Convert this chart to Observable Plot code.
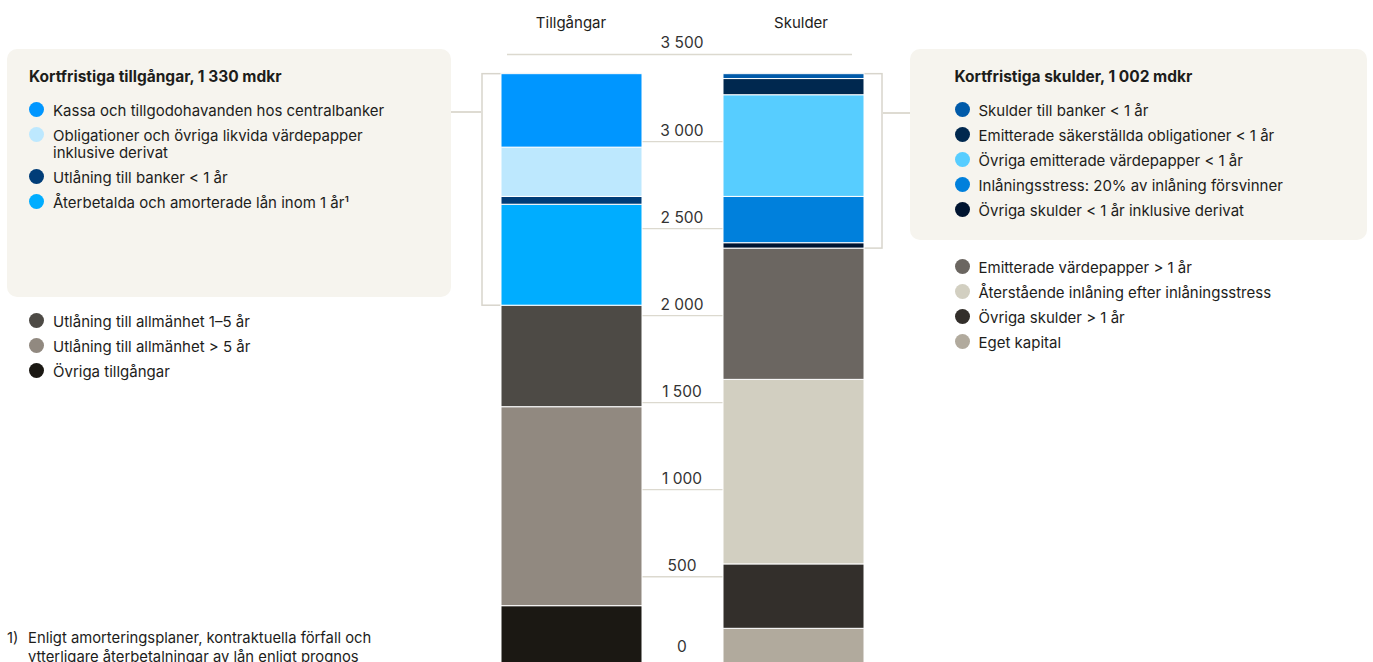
<!DOCTYPE html>
<html><head><meta charset="utf-8">
<script src="https://cdn.jsdelivr.net/npm/d3@7"></script>
<script src="https://cdn.jsdelivr.net/npm/@observablehq/plot@0.6"></script>
<style>
body{margin:0;background:#fff;font-family:Inter,"Noto Sans",sans-serif;color:#1d1d1b}
#wrap{position:relative;width:1373px;height:662px;overflow:hidden}
#chart{position:absolute;left:0;top:0}
.box{position:absolute;background:#f6f4ee;border-radius:10px}
.title{position:absolute;font-weight:700;font-size:15.5px;line-height:18px;white-space:nowrap;letter-spacing:0px}
.list{position:absolute}
.item{display:flex;align-items:flex-start;margin-bottom:8px;font-size:15px;line-height:17px;white-space:pre-line;letter-spacing:0px}
.dot{width:15px;height:15px;border-radius:50%;flex:none;margin-top:0px;margin-right:9px}
.conn{position:absolute;height:1.5px;background:#dedbd2}
.foot{position:absolute;left:7px;top:629px;display:flex;font-size:14.8px;line-height:19px;white-space:pre-line}
.foot .n{width:21px;flex:none}
</style>
</head><body>
<div id="wrap">
  <div class="box" style="left:7px;top:49px;width:444px;height:248px"></div>
  <div class="box" style="left:910px;top:49px;width:457px;height:191px"></div>
  <div class="conn" style="left:451px;top:111px;width:30px"></div>
  <div class="conn" style="left:883px;top:112px;width:27px"></div>
  <div id="chart"></div>
</div>
<script>
// ---- data ----
const sides = ["Tillgångar", "Skulder"];

// Assets, stacked bottom -> top
const assetCategories = [
  "Övriga tillgångar",
  "Utlåning till allmänhet > 5 år",
  "Utlåning till allmänhet 1–5 år",
  "Återbetalda och amorterade lån inom 1 år¹",
  "Utlåning till banker < 1 år",
  "Obligationer och övriga likvida värdepapper\ninklusive derivat",
  "Kassa och tillgodohavanden hos centralbanker"
];
const assetValues = [331, 1143, 583, 580, 45, 283, 422];
const assetShortTerm = [false, false, false, true, true, true, true];

// Liabilities, stacked bottom -> top
const liabilityCategories = [
  "Eget kapital",
  "Övriga skulder > 1 år",
  "Återstående inlåning efter inlåningsstress",
  "Emitterade värdepapper > 1 år",
  "Övriga skulder < 1 år inklusive derivat",
  "Inlåningsstress: 20% av inlåning försvinner",
  "Övriga emitterade värdepapper < 1 år",
  "Emitterade säkerställda obligationer < 1 år",
  "Skulder till banker < 1 år"
];
const liabilityValues = [201, 370, 1060, 754, 31, 266, 584, 93, 28];
const liabilityShortTerm = [false, false, false, false, true, true, true, true, true];

const boxTitles = ["Kortfristiga tillgångar, 1\u00a0330 mdkr", "Kortfristiga skulder, 1\u00a0002 mdkr"];
const yTicks = [0, 500, 1000, 1500, 2000, 2500, 3000, 3500];
const footnote = ["1)", "Enligt amorteringsplaner, kontraktuella förfall och\nytterligare återbetalningar av lån enligt prognos"];

// ---- styles ----
const palette = {
  "Kassa och tillgodohavanden hos centralbanker": "#0096ff",
  "Obligationer och övriga likvida värdepapper\ninklusive derivat": "#bde8fe",
  "Utlåning till banker < 1 år": "#003d78",
  "Återbetalda och amorterade lån inom 1 år¹": "#00adff",
  "Utlåning till allmänhet 1–5 år": "#4d4a45",
  "Utlåning till allmänhet > 5 år": "#918980",
  "Övriga tillgångar": "#1b1813",
  "Skulder till banker < 1 år": "#005aa9",
  "Emitterade säkerställda obligationer < 1 år": "#00284f",
  "Övriga emitterade värdepapper < 1 år": "#57cdff",
  "Inlåningsstress: 20% av inlåning försvinner": "#0080dc",
  "Övriga skulder < 1 år inklusive derivat": "#001430",
  "Emitterade värdepapper > 1 år": "#6b6661",
  "Återstående inlåning efter inlåningsstress": "#d2cfc1",
  "Övriga skulder > 1 år": "#332f2b",
  "Eget kapital": "#b1aa9d"
};

// ---- build table ----
const rows = [
  ...assetCategories.map((c, i) => ({side: sides[0], category: c, value: assetValues[i], short: assetShortTerm[i]})),
  ...liabilityCategories.map((c, i) => ({side: sides[1], category: c, value: liabilityValues[i], short: liabilityShortTerm[i]}))
];
function bracket(side) {
  const r = rows.filter(d => d.side === side);
  const longSum = d3.sum(r.filter(d => !d.short), d => d.value);
  return {side, y1: longSum, y2: longSum + d3.sum(r.filter(d => d.short), d => d.value)};
}
const fmt = d3.formatLocale({decimal: ",", thousands: "\u00a0", grouping: [3], currency: ["", ""]}).format(",");
const allCats = Object.keys(palette);

const plot = Plot.plot({
  width: 1373, height: 662,
  marginTop: 54, marginBottom: 0, marginLeft: 507, marginRight: 521,
  style: {fontFamily: "Inter, 'Noto Sans', sans-serif", color: "#1d1d1b", background: "transparent"},
  x: {type: "band", domain: sides, range: [500, 865], paddingInner: 0.363, paddingOuter: 0, label: null},
  y: {domain: [0, 3500], range: [663.3, 54], axis: null},
  color: {type: "ordinal", domain: allCats, range: allCats.map(c => palette[c])},
  marks: [
    Plot.ruleY(yTicks, {stroke: "#dcd9cf", strokeWidth: 1.3}),
    Plot.barY([bracket(sides[0])], {x: "side", y1: "y1", y2: "y2", fill: "none", stroke: "#d8d5cc", strokeWidth: 1.5, insetLeft: -19, insetRight: 6}),
    Plot.barY([bracket(sides[1])], {x: "side", y1: "y1", y2: "y2", fill: "none", stroke: "#d8d5cc", strokeWidth: 1.5, insetRight: -18, insetLeft: 6}),
    Plot.barY(rows, {x: "side", y: "value", fill: "category", stroke: "#fff", strokeWidth: 1}),
    Plot.text(yTicks.filter(d => d > 0), {y: d => d, text: d => fmt(d), dy: -11, dx: 2, fontSize: 15.5, fill: "#333"}),
    Plot.text(yTicks.filter(d => d === 0), {y: d => d, text: d => fmt(d), dy: -17, dx: 2, fontSize: 15.5, fill: "#333"}),
    Plot.axisX([sides[0]], {anchor: "top", tickSize: 0, tickPadding: 27, fontSize: 15, label: null, dx: -1}),
    Plot.axisX([sides[1]], {anchor: "top", tickSize: 0, tickPadding: 27, fontSize: 15, label: null, dx: 7})
  ]
});
document.getElementById("chart").appendChild(plot);

// ---- legends ----
const wrap = document.getElementById("wrap");
function addTitle(text, left, top) {
  const t = document.createElement("div");
  t.className = "title"; t.textContent = text;
  t.style.left = left + "px"; t.style.top = top + "px";
  wrap.appendChild(t);
}
function addList(items, left, top) {
  const l = document.createElement("div");
  l.className = "list"; l.style.left = left + "px"; l.style.top = top + "px";
  items.forEach(c => {
    const it = document.createElement("div"); it.className = "item";
    const dot = document.createElement("span"); dot.className = "dot"; dot.style.background = palette[c];
    const tx = document.createElement("span"); tx.textContent = c;
    it.appendChild(dot); it.appendChild(tx); l.appendChild(it);
  });
  wrap.appendChild(l);
}
const aShort = assetCategories.filter((c, i) => assetShortTerm[i]).reverse();
const aLong = assetCategories.filter((c, i) => !assetShortTerm[i]).reverse();
const lShort = liabilityCategories.filter((c, i) => liabilityShortTerm[i]).reverse();
const lLong = liabilityCategories.filter((c, i) => !liabilityShortTerm[i]).reverse();
addTitle(boxTitles[0], 29, 68);
addList(aShort, 29, 101.5);
addList(aLong, 29, 312.5);
addTitle(boxTitles[1], 954.5, 68);
addList(lShort, 954.5, 101.5);
addList(lLong, 954.5, 258.5);

const f = document.createElement("div"); f.className = "foot";
f.innerHTML = `<span class="n"></span><span class="t"></span>`;
f.querySelector(".n").textContent = footnote[0];
f.querySelector(".t").textContent = footnote[1];
wrap.appendChild(f);
</script>
</body></html>
